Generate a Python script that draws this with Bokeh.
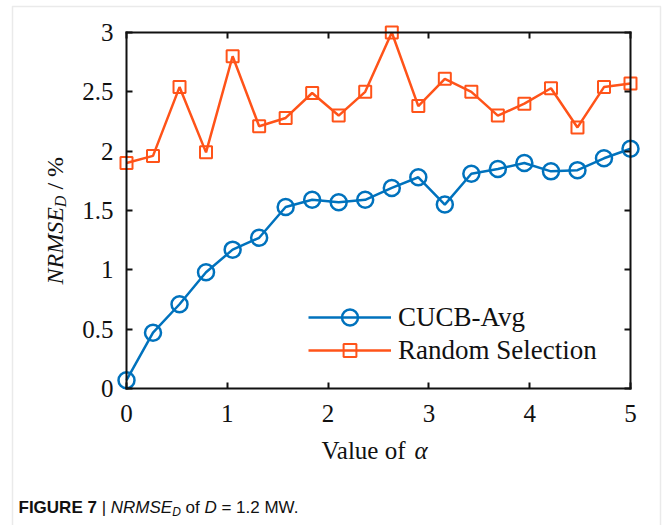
import numpy as np
from bokeh.plotting import figure
from bokeh.models import (Range1d, LinearAxis, FixedTicker, Label, Legend,
                          LegendItem, PolyAnnotation)
from bokeh.embed import file_html
from bokeh.resources import INLINE

# ---------------- data ----------------
alpha_vals = [0.0, 0.263, 0.526, 0.789, 1.053, 1.316, 1.579, 1.842, 2.105, 2.368,
              2.632, 2.895, 3.158, 3.421, 3.684, 3.947, 4.211, 4.474, 4.737, 5.0]
cucb_avg = [0.07, 0.47, 0.71, 0.98, 1.17, 1.27, 1.53, 1.59, 1.57, 1.59,
            1.69, 1.78, 1.55, 1.81, 1.85, 1.90, 1.83, 1.84, 1.94, 2.02]
random_sel = [1.90, 1.96, 2.54, 1.99, 2.80, 2.21, 2.28, 2.49, 2.30, 2.50,
              3.00, 2.38, 2.61, 2.50, 2.30, 2.40, 2.53, 2.20, 2.54, 2.57]
x_ticks = [0, 1, 2, 3, 4, 5]
x_tick_labels = ["0", "1", "2", "3", "4", "5"]
y_ticks = [0, 0.5, 1, 1.5, 2, 2.5, 3]
y_tick_labels = ["0", "0.5", "1", "1.5", "2", "2.5", "3"]
series_names = ["CUCB-Avg", "Random Selection"]

BLUE = "#0072BD"
ORANGE = "#FF5319"
SERIF = "Liberation Serif"
SANS = "Liberation Sans"

# ---------------- geometry ----------------
W, H = 664, 525
AX_L, AX_R, AX_T, AX_B = 126, 630, 32, 388   # pixel box of the axes
XMIN, XMAX, YMIN, YMAX = 0, 5, 0, 3
sx = (AX_R - AX_L) / (XMAX - XMIN)
sy = (AX_B - AX_T) / (YMAX - YMIN)


def dx(px):
    return XMIN + (px - AX_L) / sx


def dy(py):
    return YMIN + (AX_B - py) / sy


# the frame covers the whole canvas; axes are drawn at fixed data locations
p = figure(width=W, height=H, output_backend="svg", toolbar_location=None,
           x_range=Range1d(dx(0), dx(W)), y_range=Range1d(dy(H), dy(0)),
           x_axis_type=None, y_axis_type=None,
           min_border_left=0, min_border_right=0,
           min_border_top=0, min_border_bottom=0)
p.outline_line_color = None
p.background_fill_color = "white"
p.border_fill_color = "white"


def make_axis(fixed, bounds, ticks, labels, show_labels):
    ax = LinearAxis(fixed_location=fixed, bounds=bounds,
                    ticker=FixedTicker(ticks=ticks),
                    axis_line_width=2, axis_line_color="#111111", axis_line_cap="square",
                    major_tick_in=6, major_tick_out=0, major_tick_line_width=2,
                    major_tick_line_color="#111111",
                    minor_tick_line_color=None)
    if show_labels:
        ax.major_label_overrides = {t: l for t, l in zip(ticks, labels)}
        ax.major_label_text_font = SERIF
        ax.major_label_text_font_size = "25px"
        ax.major_label_text_color = "#111111"
    else:
        ax.major_label_text_font_size = "0px"
        ax.major_label_text_color = None
        ax.major_label_standoff = 0
    return ax


left = make_axis(XMIN, (YMIN, YMAX), y_ticks, y_tick_labels, True)
left.major_label_standoff = 13
bottom = make_axis(YMIN, (XMIN, XMAX), x_ticks, x_tick_labels, True)
bottom.major_label_standoff = 16
right = make_axis(XMAX, (YMIN, YMAX), y_ticks, y_tick_labels, False)
top = make_axis(YMAX, (XMIN, XMAX), x_ticks, x_tick_labels, False)
p.add_layout(left, "left")
p.add_layout(bottom, "below")
p.add_layout(right, "right")
p.add_layout(top, "above")

# ---------------- series ----------------
l1 = p.line(alpha_vals, cucb_avg, line_color=BLUE, line_width=2.5)
s1 = p.scatter(alpha_vals, cucb_avg, marker="circle", size=16, fill_color=None,
               line_color=BLUE, line_width=2.5)
l2 = p.line(alpha_vals, random_sel, line_color=ORANGE, line_width=2.5)
s2 = p.scatter(alpha_vals, random_sel, marker="square", size=12, fill_color=None,
               line_color=ORANGE, line_width=2)


# ---------------- legends ----------------
def add_legend(label, renderers, cx0, cy, gh):
    leg = Legend(items=[LegendItem(label=label, renderers=renderers)],
                 location=(cx0, H - (cy + gh / 2)),
                 glyph_width=83, glyph_height=gh, label_height=gh,
                 label_standoff=7, padding=0, margin=0, spacing=0,
                 border_line_color=None, background_fill_alpha=0,
                 label_text_font=SERIF, label_text_font_size="27px",
                 label_text_color="#111111")
    p.add_layout(leg)


add_legend(series_names[0], [l1, s1], 308, 317, 40)
add_legend(series_names[1], [l2, s2], 308, 350, 32)


# ---------------- texts ----------------
def px_label(text, cx, cy, font, size, style="normal", angle=0.0, color="#111111"):
    lab = Label(x=XMIN, y=YMIN, x_offset=cx - AX_L, y_offset=AX_B - cy, text=text,
                text_font=font, text_font_size=f"{size}px", text_font_style=style,
                text_color=color, text_align="left", text_baseline="alphabetic",
                angle=angle, angle_units="rad")
    p.add_layout(lab)


# x axis label "Value of α"
xb = 450
px_label("Value of", 321, xb, SERIF, 25)
px_label("α", 321 + 3.721 * 25, xb, SERIF, 25, style="italic")

# y axis label "NRMSE_D / %" (rotated)
yf = 24
ys = 284
bx = 54
px_label("NRMSE", bx, ys, SERIF, yf, style="italic", angle=np.pi / 2)
ys -= 3.222 * yf
px_label("D", bx + 6, ys, SERIF, 16, style="italic", angle=np.pi / 2)
ys -= 0.722 * 16 + 0.25 * yf
px_label("/ %", bx, ys, SERIF, yf, angle=np.pi / 2)

# caption
cx = 18
cb = 507
fs = 17
px_label("FIGURE 7", cx, cb, SANS, fs, style="bold")
cx += (4.612 + 0.278) * fs
px_label("|", cx, cb, SANS, fs)
cx += (0.26 + 0.278) * fs
px_label("NRMSE", cx, cb, SANS, fs, style="italic")
cx += 3.611 * fs
px_label("D", cx, cb + 4, SANS, 12, style="italic")
cx += 0.722 * 12 + 0.278 * fs
px_label("of", cx, cb, SANS, fs)
cx += (0.834 + 0.278) * fs
px_label("D", cx, cb, SANS, fs, style="italic")
cx += (0.722 + 0.278) * fs
px_label("= 1.2 MW.", cx, cb, SANS, fs)

# ---------------- outer frame ----------------
p.add_layout(PolyAnnotation(xs=[dx(12), dx(12), dx(660), dx(660)],
                            ys=[dy(560), dy(6), dy(6), dy(560)],
                            line_color="#b8b8b8", line_width=1.5,
                            fill_color=None, fill_alpha=0))

open("out.html", "w").write(file_html(p, INLINE))
